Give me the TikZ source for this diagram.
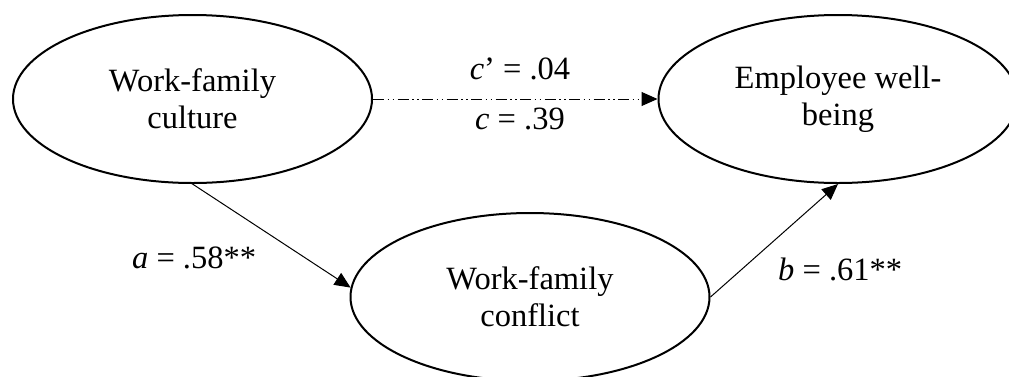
\documentclass[tikz,border=0pt]{standalone}
\usepackage{fontspec}
\setmainfont{Liberation Serif}
\usetikzlibrary{shapes.geometric,arrows.meta}
\tikzset{
  construct/.style={ellipse, draw, line width=2pt, minimum width=359pt, minimum height=168pt,
    inner sep=0pt, align=center, font=\fontsize{32.5}{37}\selectfont},
  pathlabel/.style={font=\fontsize{32.5}{37}\selectfont, inner sep=0pt, anchor=base},
  effect/.style={line width=1pt, -{Triangle[length=16pt,width=14pt]}},
  direct/.style={effect, dash pattern=on 11pt off 3.5pt on 1.5pt off 3.5pt on 1.5pt off 3.5pt}
}
\begin{document}
\begin{tikzpicture}[x=1pt,y=-1pt]
\useasboundingbox (0,0) rectangle (1009,376);
\clip (0,0) rectangle (1009,376);
\node[construct] (culture) at (192.5,99) {Work-family\\culture};
\node[construct] (wellbeing) at (838,99) {Employee well-\\being};
\node[construct] (conflict) at (530,297) {Work-family\\conflict};
\draw[direct] (culture.east) -- (wellbeing.west);
\draw[effect] (culture.south) -- (conflict.177);
\draw[effect] (conflict.east) -- (wellbeing.south);
\node[pathlabel] (lcp) at (520,79) {\textit{c}’ = .04};
\node[pathlabel] (lc) at (520,129) {\textit{c} = .39};
\node[pathlabel, anchor=base west] (la) at (132,268) {\textit{a} = .58**};
\node[pathlabel, anchor=base west] (lb) at (778,280) {\textit{b} = .61**};
\end{tikzpicture}
\end{document}
